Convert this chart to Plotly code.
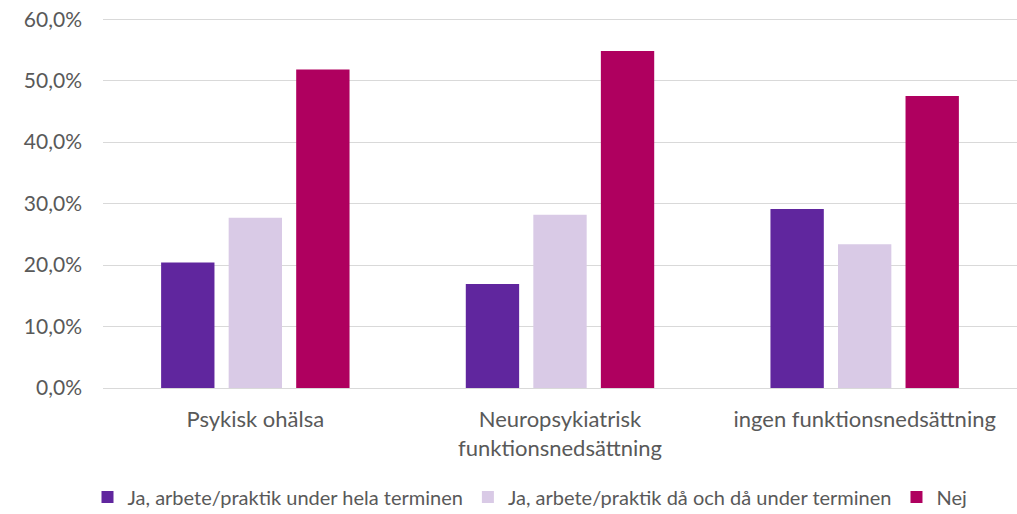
import plotly.graph_objects as go

categories = ["Psykisk ohälsa", "Neuropsykiatrisk<br>funktionsnedsättning", "ingen funktionsnedsättning"]
series_names = [
    "Ja, arbete/praktik under hela terminen",
    "Ja, arbete/praktik då och då under terminen",
    "Nej",
]
hela_terminen = [0.204, 0.169, 0.291]
da_och_da = [0.277, 0.282, 0.234]
nej = [0.518, 0.548, 0.475]
tick_values = [0, 0.1, 0.2, 0.3, 0.4, 0.5, 0.6]

colors = ["#60269E", "#D9CAE6", "#AF005F"]

fig = go.Figure()
for name, vals, col in zip(series_names, [hela_terminen, da_och_da, nej], colors):
    fig.add_trace(go.Bar(x=categories, y=vals, name=name, marker=dict(color=col, line=dict(width=0))))

W, H = 1017, 514
font_family = "Lato, 'Open Sans', sans-serif"
fig.update_layout(
    width=W, height=H,
    barmode="group", bargap=0.335, bargroupgap=0.21,
    separators=", ",
    paper_bgcolor="white", plot_bgcolor="white",
    margin=dict(l=103, r=0, t=13, b=126, autoexpand=False),
    font=dict(family=font_family, color="#595959", size=20),
    yaxis=dict(range=[0, 0.61], tickvals=tick_values, tickformat=".1%",
               gridcolor="#D9D9D9", gridwidth=1, zeroline=False,
               showline=False, ticks="", ticklen=0, automargin=False,
               tickfont=dict(size=21, color="#595959"), ticklabelstandoff=20,
               ticklabeloverflow="allow"),
    xaxis=dict(showline=True, linecolor="#D9D9D9", linewidth=1, ticks="", automargin=False,
               tickfont=dict(size=22, color="#595959"), ticklabelstandoff=12),
    legend=dict(orientation="h", x=530 / W, xanchor="center", xref="container",
                y=1 - 497 / H, yanchor="middle", yref="container",
                font=dict(size=20, color="#595959"), itemwidth=30, traceorder="normal"),
)

fig.write_html("out.html", config={"displayModeBar": False},
               post_script="document.body.style.margin='0';")
